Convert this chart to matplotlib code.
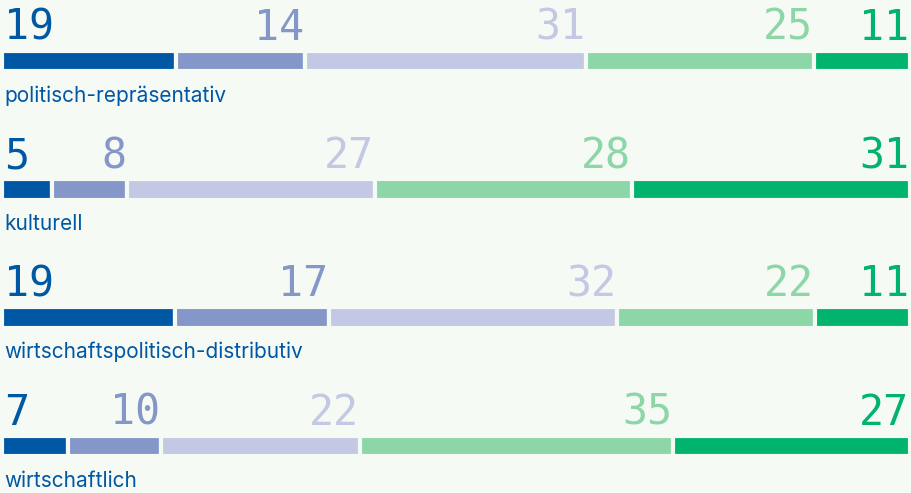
import matplotlib.pyplot as plt

categories = ["politisch-repräsentativ", "kulturell",
              "wirtschaftspolitisch-distributiv", "wirtschaftlich"]
# labels shown above the bars (rounded percentages)
values = [
    [19, 14, 31, 25, 11],
    [5, 8, 27, 28, 31],
    [19, 17, 32, 22, 11],
    [7, 10, 22, 35, 27],
]
# segment lengths
shares = [
    [19.2, 14.2, 30.9, 25.1, 10.6],
    [5.5, 8.3, 27.3, 28.3, 30.6],
    [19.0, 17.0, 31.7, 21.8, 10.5],
    [7.3, 10.2, 21.9, 34.5, 26.1],
]
colors = ["#0057a4", "#8596c8", "#c3c8e4", "#8cd6a8", "#00b46e"]
bg = "#f5faf4"
label_color = "#0057a4"

fig = plt.figure(figsize=(9.12, 4.93), dpi=100, facecolor=bg)
ax = fig.add_axes([0, 0, 1, 1])
ax.set_facecolor(bg)
ax.set_xlim(-2 / 9.1, 100 + 2 / 9.1)
ax.set_ylim(493, 0)
ax.axis("off")

row_step = 128.2
for i, cat in enumerate(categories):
    y0 = i * row_step
    vals = values[i]
    sh = shares[i]
    total = float(sum(sh))
    left = 0.0
    for j, v in enumerate(vals):
        w = sh[j] / total * 100
        ax.barh(y0 + 61.2, w, left=left, height=20.5, color=colors[j],
                edgecolor=bg, linewidth=3)
        if j == 0:
            ax.text(left + 0.2, y0 + 40, str(v), ha="left", va="baseline",
                    fontsize=30, color=colors[j], family="DejaVu Sans Mono")
        else:
            ax.text(left + w - 0.1, y0 + 40, str(v), ha="right", va="baseline",
                    fontsize=30, color=colors[j], family="DejaVu Sans Mono")
        left += w
    ax.text(0.3, y0 + 102, cat, ha="left", va="baseline", fontsize=15,
            color=label_color, family="Inter")

fig.savefig("out.png", dpi=100, facecolor=bg)
